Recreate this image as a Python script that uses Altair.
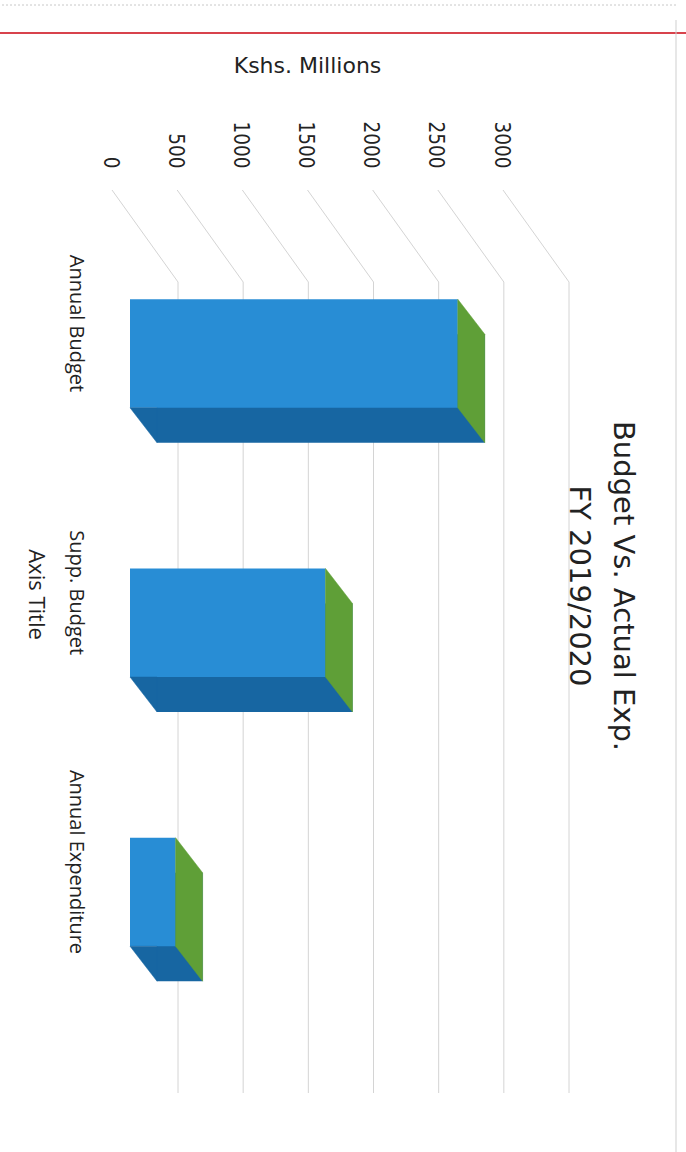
import altair as alt
import pandas as pd

# ---- data ----
categories = ["Annual Budget", "Supp. Budget", "Annual Expenditure"]
values = [2515, 1500, 350]
ticks = [0, 500, 1000, 1500, 2000, 2500, 3000]
title_lines = ["Budget Vs. Actual Exp.", "FY 2019/2020"]
value_axis_title = "Kshs. Millions"
category_axis_title = "Axis Title"

bars = pd.DataFrame({"category": categories, "value": values})
grid = pd.DataFrame({"tick": ticks})
one = pd.DataFrame({"k": [0]})

# ---- styles ----
FRONT = "#288dd5"
SIDE = "#1766a2"
TOP = "#5f9f37"
GRID = "#d4d4d4"
TEXT = "#222222"

W, H = 391, 903
DX, DY = 27, 35          # 3-D depth of the boxes in pixels
HALF_BAND = 54.25        # half of the front-face thickness
R = 100.0                # custom-symbol unit (size = (2R)^2)
SIZE = (2 * R) ** 2

hb, dx, dy = HALF_BAND / R, DX / R, DY / R
GREEN_PATH = f"M0,{-hb}L{dx},{-hb + dy}L{dx},{hb + dy}L0,{hb}Z"
TRI_PATH = f"M0,{hb}L{dx},{hb}L{dx},{hb + dy}Z"

xscale = alt.Scale(domain=[0, 3000], nice=False, zero=True)
yscale = alt.Scale(domain=categories, range=[109.25, 756.25],
                   paddingInner=0.597, paddingOuter=0)

x_axis = alt.Axis(
    orient="top", values=ticks, format="d", labelAngle=90, labelAlign="right",
    labelBaseline="middle", labelOffset=-21, labelPadding=22,
    ticks=False, domain=False, grid=False, labelFlush=False, labelOverlap=False,
    labelFont="DejaVu Sans Condensed", labelFontSize=20.5, labelColor=TEXT,
    title=value_axis_title, titleFont="DejaVu Sans", titleFontSize=22,
    titleFontWeight="normal", titleColor=TEXT, titleAngle=0,
    titleX=177, titleY=-125, titleAlign="center", titleBaseline="middle",
)
y_axis = alt.Axis(
    orient="left", labelAngle=90, labelAlign="center", labelBaseline="top",
    labelPadding=45, labelOffset=-30, labelLimit=0, ticks=False, domain=False,
    grid=False, labelFont="Open Sans", labelFontSize=20, labelColor=TEXT,
    title=category_axis_title, titleAngle=90, titleX=-95, titleY=404,
    titleAlign="center", titleBaseline="middle", titleFont="Open Sans",
    titleFontSize=22, titleFontWeight="normal", titleColor=TEXT,
)

# gridlines: diagonal on the side wall, vertical on the back wall
diag = alt.Chart(grid).mark_rule(color=GRID, strokeWidth=1, xOffset=-18, x2Offset=48).encode(
    x=alt.X("tick:Q", scale=xscale, axis=None),
    x2="tick:Q",
    y=alt.value(0), y2=alt.value(92),
)
backwall = alt.Chart(grid).mark_rule(color=GRID, strokeWidth=1, xOffset=48).encode(
    x=alt.X("tick:Q", scale=xscale, axis=None),
    y=alt.value(92), y2=alt.value(H),
)

ypos = alt.Y("category:N", scale=yscale, sort=categories, axis=None)

back_box = alt.Chart(bars).mark_bar(
    color=SIDE, xOffset=DX, x2Offset=DX, yOffset=DY, y2Offset=DY
).encode(x=alt.X("value:Q", scale=xscale, axis=None), y=ypos)

front = alt.Chart(bars).mark_bar(color=FRONT).encode(
    x=alt.X("value:Q", scale=xscale, axis=x_axis),
    y=alt.Y("category:N", scale=yscale, sort=categories, axis=y_axis),
)

green = alt.Chart(bars).mark_point(
    shape=GREEN_PATH, size=SIZE, filled=True, color=TOP, opacity=1,
    stroke=TOP, strokeWidth=0.5
).encode(x=alt.X("value:Q", scale=xscale, axis=None), y=ypos)

tri = alt.Chart(bars).mark_point(
    shape=TRI_PATH, size=SIZE, filled=True, color=SIDE, opacity=1,
    stroke=SIDE, strokeWidth=0.5
).encode(x=alt.datum(0, scale=xscale, axis=None), y=ypos)

title = alt.Chart(one).mark_text(
    text=title_lines, angle=90, align="center", baseline="middle",
    font="DejaVu Sans", fontSize=29, lineHeight=44, color=TEXT
).encode(x=alt.value(493), y=alt.value(396))

red_line = alt.Chart(one).mark_rule(color="#d8434c", strokeWidth=2).encode(
    x=alt.value(-130), x2=alt.value(556), y=alt.value(-157)
)
top_line = alt.Chart(one).mark_rule(color="#c8c8c8", strokeWidth=1, strokeDash=[2, 2]).encode(
    x=alt.value(-128), x2=alt.value(546), y=alt.value(-185)
)
right_line = alt.Chart(one).mark_rule(color="#cfcfcf", strokeWidth=1).encode(
    x=alt.value(546), y=alt.value(-170), y2=alt.value(962)
)

chart = alt.layer(
    diag, backwall, back_box, front, green, tri, title, red_line, top_line, right_line
).resolve_axis(
    x="independent", y="independent"
).properties(
    width=W, height=H,
    autosize=alt.AutoSizeParams(type="none"),
    padding={"left": 130, "top": 190, "right": 165, "bottom": 59},
    background="white",
).configure_view(strokeWidth=0)

chart.save("out.html", embed_options={"renderer": "svg", "actions": False})
